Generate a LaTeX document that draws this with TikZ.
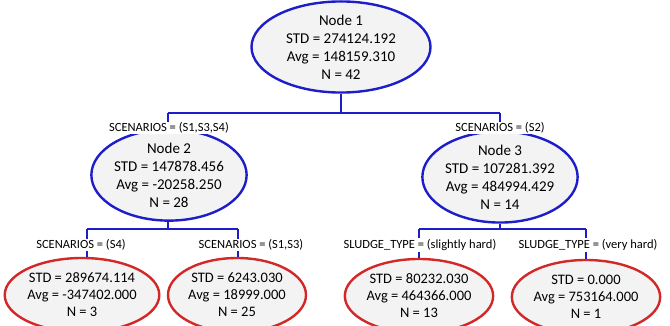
\documentclass[tikz,border=0pt]{standalone}
\usepackage{fontspec}
\setmainfont{Carlito}
\usetikzlibrary{shapes.geometric}
\definecolor{lineblue}{RGB}{30,30,200}
\definecolor{leafred}{RGB}{210,40,40}
\definecolor{ellfill}{RGB}{243,243,243}
\begin{document}
\begin{tikzpicture}[x=1pt,y=-1pt,
  tree/.style={ellipse, draw=lineblue, line width=2.4pt, fill=ellfill, inner sep=0pt,
    align=center, font=\fontsize{15}{18}\selectfont},
  leaf/.style={tree, draw=leafred, font=\fontsize{14.5}{17}\selectfont},
  conn/.style={draw=lineblue, line width=2pt},
  cond/.style={fill=white, inner sep=1pt, font=\fontsize{12.5}{14}\selectfont}]
\useasboundingbox (0,0) rectangle (670,326);

% internal nodes
\node[tree, minimum width=179pt, minimum height=87pt] (n1) at (341,47)
  {Node 1\\STD = 274124.192\\Avg = 148159.310\\N = 42};
\node[tree, minimum width=146pt, minimum height=75pt] (n2) at (169,175)
  {Node 2\\STD = 147878.456\\Avg = -20258.250\\N = 28};
\node[tree, minimum width=155pt, minimum height=81pt] (n3) at (500,177)
  {Node 3\\STD = 107281.392\\Avg = 484994.429\\N = 14};

% leaves
\node[leaf, minimum width=151pt, minimum height=74pt] (n4) at (82,295)
  {STD = 289674.114\\Avg = -347402.000\\N = 3};
\node[leaf, minimum width=138pt, minimum height=74pt] (n5) at (237,295)
  {STD = 6243.030\\Avg = 18999.000\\N = 25};
\node[leaf, minimum width=134pt, minimum height=74pt] (n6) at (419,296)
  {STD = 80232.030\\Avg = 464366.000\\N = 13};
\node[leaf, minimum width=138pt, minimum height=74pt] (n7) at (586,297)
  {STD = 0.000\\Avg = 753164.000\\N = 1};

% junction coordinates
\coordinate (b1) at (341,113);
\coordinate (v2) at (168,113);
\coordinate (v3) at (500,113);
\coordinate (b2) at (168,229);
\coordinate (v4) at (87,229);
\coordinate (v5) at (238,229);
\coordinate (b3) at (500,229);
\coordinate (v6) at (419,229);
\coordinate (v7) at (586,229);

% connectors (drawn before the labels)
\draw[conn] (n1.south) -- (b1);
\draw[conn] (v2) -- (v3);
\draw[conn] (v2) -- (n2.north -| v2);
\draw[conn] (v3) -- (n3.north);
\draw[conn] (n2.south -| b2) -- (b2);
\draw[conn] (v4) -- (v5);
\draw[conn] (v4) -- (n4.north -| v4);
\draw[conn] (v5) -- (n5.north -| v5);
\draw[conn] (n3.south) -- (b3);
\draw[conn] (v6) -- (v7);
\draw[conn] (v6) -- (n6.north -| v6);
\draw[conn] (v7) -- (n7.north -| v7);

% split conditions
\node[cond] (c2) at (169,128) {SCENARIOS = (S1,S3,S4)};
\node[cond] (c3) at (500,128) {SCENARIOS = (S2)};
\node[cond] (c4) at (81,245) {SCENARIOS = (S4)};
\node[cond] (c5) at (251,245) {SCENARIOS = (S1,S3)};
\node[cond] (c6) at (420,245) {SLUDGE\_TYPE = (slightly hard)};
\node[cond] (c7) at (588,245) {SLUDGE\_TYPE = (very hard)};
\end{tikzpicture}
\end{document}
